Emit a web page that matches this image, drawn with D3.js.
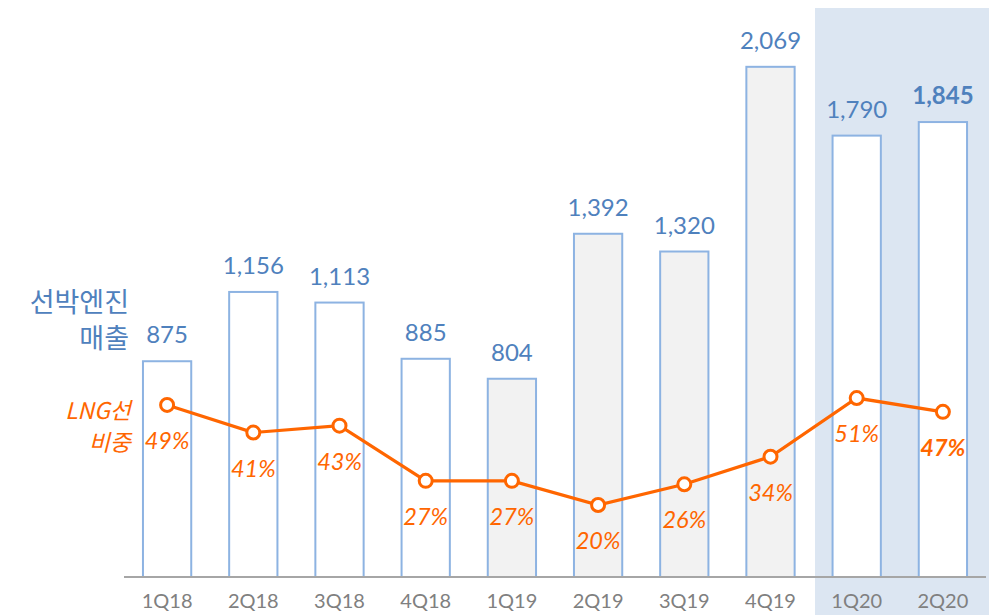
<!DOCTYPE html>
<html><head><meta charset="utf-8">
<script src="https://cdn.jsdelivr.net/npm/d3@7"></script>
<style>body{margin:0;background:#fff}svg{display:block}</style>
</head><body>
<svg id="c" width="993" height="615"></svg>
<script>
const categories = ["1Q18","2Q18","3Q18","4Q18","1Q19","2Q19","3Q19","4Q19","1Q20","2Q20"];
const sales = [875,1156,1113,885,804,1392,1320,2069,1790,1845];
const lngShare = [49,41,43,27,27,20,26,34,51,47];
const barFill = ["#ffffff","#ffffff","#ffffff","#ffffff","#f2f2f2","#f2f2f2","#f2f2f2","#f2f2f2","#ffffff","#ffffff"];
const boldIdx = [9];
const salesLabel = ["선박엔진","매출"];
const shareLabel = ["LNG선","비중"];

const svg = d3.select("#c");
const x = d3.scaleBand().domain(categories).range([124, 986]).paddingInner(0.44).paddingOuter(0.22);
const y = d3.scaleLinear().domain([0, 2340]).range([577, 0]);
const y2 = d3.scaleLinear().domain([0, 100]).range([574, 229]);

const font = "Lato, 'Noto Sans', sans-serif";
const kfont = "'Noto Sans CJK KR', sans-serif";
const blue = "#4f81bd", orange = "#ff6600";

// highlight band
svg.append("rect").attr("x", 815).attr("y", 8)
  .attr("width", 989 - 815).attr("height", 615 - 8).attr("fill", "#dce6f2");

// bars
svg.selectAll("rect.bar").data(categories).join("rect").attr("class","bar")
  .attr("x", d => x(d)).attr("y", (d,i) => y(sales[i]))
  .attr("width", x.bandwidth()).attr("height", (d,i) => y(0) - y(sales[i]))
  .attr("fill", (d,i) => barFill[i]).attr("stroke", "#8db3e2").attr("stroke-width", 2);

// axis
const ax = svg.append("g").attr("transform", "translate(0,577)").call(d3.axisBottom(x).tickSize(0).tickPadding(0));
ax.select(".domain").attr("stroke", "#a6a6a6").attr("stroke-width", 2).attr("d", "M124,0H986");
ax.selectAll("text").attr("dy", null).attr("y", 31).attr("font-family", font).attr("font-size", 20).attr("fill", "#808080");

// value labels
svg.selectAll("text.val").data(categories).join("text").attr("class","val")
  .attr("x", d => x(d) + x.bandwidth()/2).attr("y", (d,i) => y(sales[i]) - 18)
  .attr("text-anchor","middle").attr("font-family", font).attr("font-size", 24)
  .attr("font-weight", (d,i) => boldIdx.includes(i) ? "bold" : "normal")
  .attr("fill", blue).text((d,i) => d3.format(",")(sales[i]));

// line
const cx = d => x(d) + x.bandwidth()/2;
svg.append("path").datum(categories)
  .attr("d", d3.line().x(d => cx(d)).y((d,i) => y2(lngShare[i])))
  .attr("fill","none").attr("stroke", orange).attr("stroke-width", 3.2);
svg.selectAll("circle.pt").data(categories).join("circle").attr("class","pt")
  .attr("cx", cx).attr("cy", (d,i) => y2(lngShare[i])).attr("r", 6.5)
  .attr("fill","#fff").attr("stroke", orange).attr("stroke-width", 3);
svg.selectAll("text.pct").data(categories).join("text").attr("class","pct")
  .attr("x", cx).attr("y", (d,i) => y2(lngShare[i]) + 44)
  .attr("text-anchor","middle").attr("font-family", font).attr("font-size", 23.5)
  .attr("font-style","italic").attr("font-weight", (d,i) => boldIdx.includes(i) ? "bold" : "normal")
  .attr("fill", orange).text((d,i) => lngShare[i] + "%");

// left labels (multi-line)
const t1 = svg.append("text").attr("text-anchor","end").attr("font-family",kfont)
  .attr("font-size",27).attr("fill",blue);
salesLabel.forEach((s,i) => t1.append("tspan").attr("x",129).attr("y", 312 + i*36).text(s));
const t2 = svg.append("text").attr("text-anchor","end").attr("font-family",kfont)
  .attr("font-size",23).attr("font-style","italic").attr("fill",orange);
shareLabel.forEach((s,i) => t2.append("tspan").attr("x",131).attr("y", 419 + i*32).text(s));
</script>
</body></html>
